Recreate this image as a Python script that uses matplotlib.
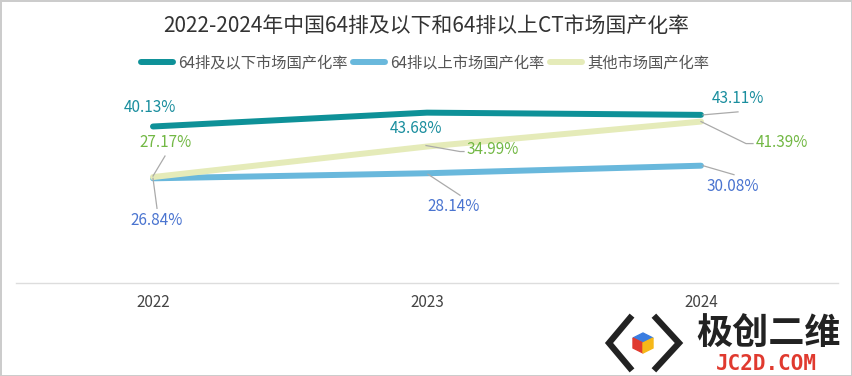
import matplotlib
matplotlib.use('Agg')
import matplotlib.pyplot as plt
import matplotlib.transforms as mtransforms
from matplotlib.lines import Line2D
from matplotlib.patches import Polygon

plt.rcParams['font.family'] = ['Noto Sans CJK SC', 'DejaVu Sans']

# data
years = ['2022', '2023', '2024']
low_slice = [40.13, 43.68, 43.11]     # 64排及以下
high_slice = [26.84, 28.14, 30.08]    # 64排以上
other = [27.17, 34.99, 41.39]         # 其他
series_names = ['64排及以下市场国产化率', '64排以上市场国产化率', '其他市场国产化率']
title = '2022-2024年中国64排及以下和64排以上CT市场国产化率'

line_colors = ['#0e9198', '#69b8dc', '#e5ebb9']
label_colors = ['#1a8e9e', '#4a74d0', '#72b844']

W, H = 852, 376
fig = plt.figure(figsize=(W / 100, H / 100), dpi=100)
fig.patch.set_edgecolor('#cccccc')
fig.patch.set_linewidth(2)

ax = fig.add_axes([16 / W, (H - 283) / H, (838 - 16) / W, (283 - 88) / H])
x = list(range(len(years)))
series = [low_slice, high_slice, other]
for vals, c in zip(series, line_colors):
    ax.plot(x, vals, color=c, lw=4.3, solid_capstyle='round', solid_joinstyle='round')
ax.set_xlim(-0.5, 2.5)
ax.set_ylim(0, 50)
ax.set_yticks([])
ax.set_xticks(x)
ax.set_xticklabels(years, fontsize=11, color='#444444')
ax.tick_params(axis='x', length=0, pad=8)
for s in ['top', 'right', 'left']:
    ax.spines[s].set_visible(False)
ax.spines['bottom'].set_color('#dddddd')
ax.spines['bottom'].set_linewidth(1)

# label offsets in pixels (text centre, leader polyline), y up
label_layout = [
    [((-3, 19), None), ((-11, -16), None), ((37, 16), [(2, 0), (37, 3)])],
    [((4, -42), [(0, 0), (4, -30)]), ((27, -33), [(1, -1), (33, -22)]),
     ((32, -21), [(2, 0), (33, -9)])],
    [((13, 35), [(0, 1), (12, 21)]), ((66, -3), [(-1, 1), (33, -5), (37, -5)]),
     ((81, -21), [(0, 0), (45, -22), (52, -22)])],
]
for si, vals in enumerate(series):
    for xi, v in enumerate(vals):
        (tx, ty), leader = label_layout[si][xi]
        tr = fig.dpi_scale_trans + mtransforms.ScaledTranslation(xi, v, ax.transData)
        if leader:
            ax.add_line(Line2D([p[0] / 100 for p in leader], [p[1] / 100 for p in leader],
                               transform=tr, color='#aaaaaa', lw=0.9))
        ax.text(tx / 100, ty / 100, f'{v:.2f}%', transform=tr, ha='center', va='center',
                fontsize=11, color=label_colors[si], fontweight='light')

fig.text(0.5, 1 - 26 / H, title, ha='center', va='center', fontsize=15, color='#333333')

handles = [Line2D([], [], color=c, lw=4.3, solid_capstyle='round') for c in line_colors]
fig.legend(handles, series_names, loc='center', bbox_to_anchor=(425 / W, 1 - 63 / H), ncol=3,
           frameon=False, fontsize=11, handlelength=2.1, handletextpad=0.3,
           columnspacing=0.4, labelcolor='#555555')

# watermark logo
lax = fig.add_axes([598 / W, 2 / H, 250 / W, 74 / H])
lax.set_xlim(598, 848)
lax.set_ylim(374, 300)
lax.axis('off')
lax.patch.set_visible(False)
lax.plot([630, 609, 630], [318, 343, 368], color='#222222', lw=4.5, solid_joinstyle='miter')
lax.plot([656, 679, 656], [318, 343, 368], color='#222222', lw=4.5, solid_joinstyle='miter')
cx, cy, r = 643, 343, 10
lax.add_patch(Polygon([(cx, cy - r), (cx + r, cy - r / 2), (cx, cy), (cx - r, cy - r / 2)], color='#3b7de0'))
lax.add_patch(Polygon([(cx - r, cy - r / 2), (cx, cy), (cx, cy + r), (cx - r, cy + r / 2)], color='#e03a2f'))
lax.add_patch(Polygon([(cx + r, cy - r / 2), (cx, cy), (cx, cy + r), (cx + r, cy + r / 2)], color='#f6b819'))
lax.text(769, 333, '极创二维', ha='center', va='center', fontsize=26, fontweight='bold', color='#222222')
lax.text(766, 364, 'JC2D.COM', ha='center', va='center', fontsize=15, fontweight='bold',
         color='#e03a2f', family='DejaVu Sans Mono')

fig.savefig('out.png', dpi=100)
